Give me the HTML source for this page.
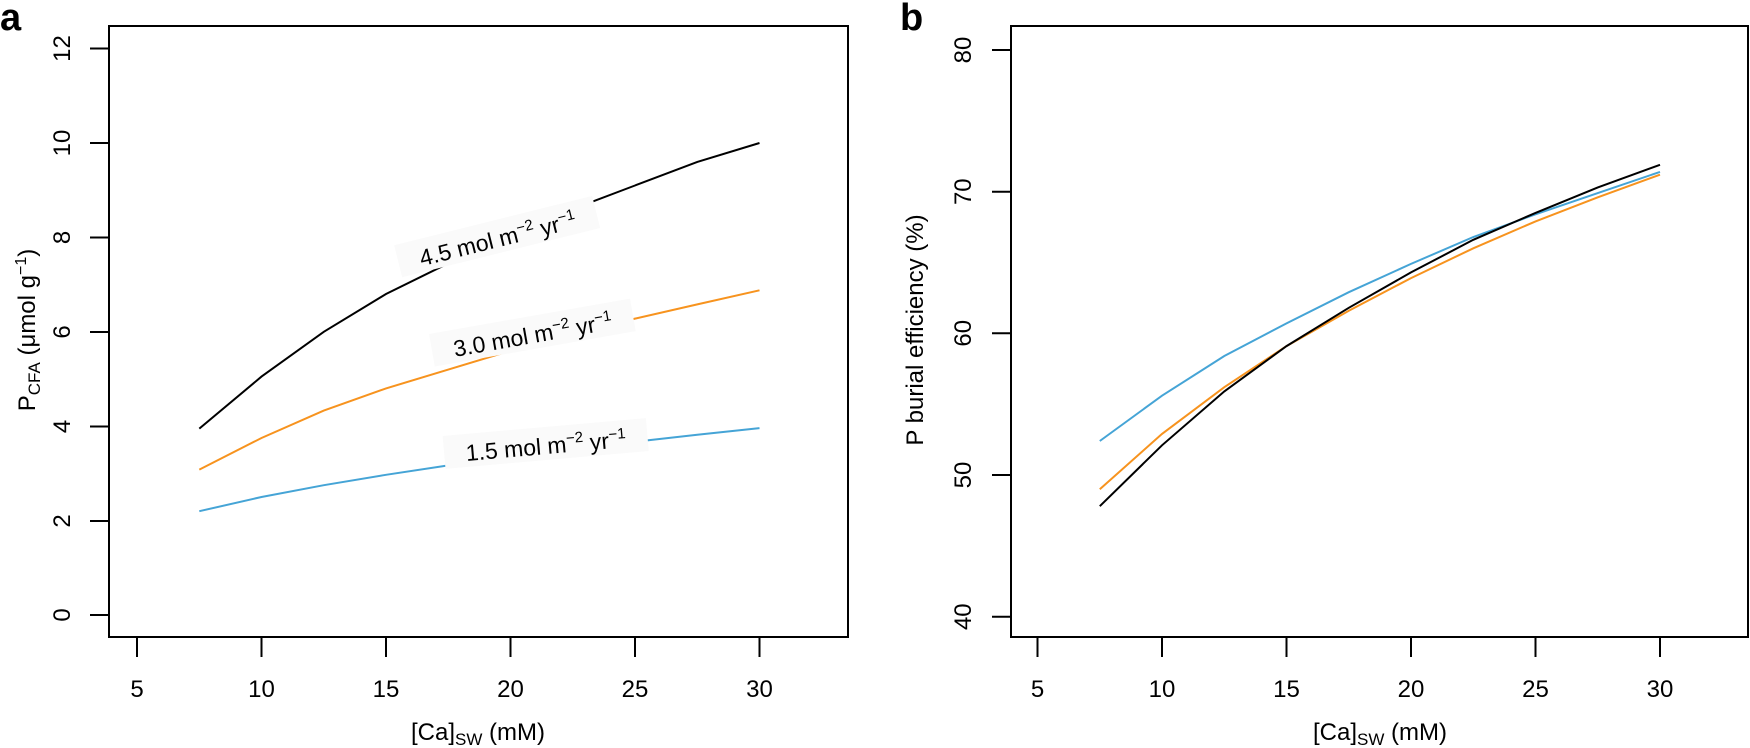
<!DOCTYPE html>
<html><head><meta charset="utf-8"><style>
body{margin:0;background:#fff}
svg{display:block}
text{font-family:"Liberation Sans",sans-serif;fill:#000}
</style></head><body>
<svg width="1750" height="748" viewBox="0 0 1750 748" xmlns="http://www.w3.org/2000/svg">
<!-- Panel a -->
<text x="0" y="30" font-size="38" font-weight="bold">a</text>
<rect x="109" y="26" width="739" height="611" fill="none" stroke="#000" stroke-width="2"/>
<g stroke="#000" stroke-width="2">
<line x1="137" y1="637" x2="137" y2="657"/><line x1="261.5" y1="637" x2="261.5" y2="657"/>
<line x1="386" y1="637" x2="386" y2="657"/><line x1="510.5" y1="637" x2="510.5" y2="657"/>
<line x1="635" y1="637" x2="635" y2="657"/><line x1="759.5" y1="637" x2="759.5" y2="657"/>
<line x1="90" y1="615" x2="109" y2="615"/><line x1="90" y1="521" x2="109" y2="521"/>
<line x1="90" y1="426.5" x2="109" y2="426.5"/><line x1="90" y1="332" x2="109" y2="332"/>
<line x1="90" y1="237.5" x2="109" y2="237.5"/><line x1="90" y1="143" x2="109" y2="143"/>
<line x1="90" y1="48.5" x2="109" y2="48.5"/>
</g>
<g font-size="24" text-anchor="middle">
<text x="137" y="697">5</text><text x="261.5" y="697">10</text><text x="386" y="697">15</text>
<text x="510.5" y="697">20</text><text x="635" y="697">25</text><text x="759.5" y="697">30</text>
<text transform="translate(70,615) rotate(-90)">0</text>
<text transform="translate(70,521) rotate(-90)">2</text>
<text transform="translate(70,426.5) rotate(-90)">4</text>
<text transform="translate(70,332) rotate(-90)">6</text>
<text transform="translate(70,237.5) rotate(-90)">8</text>
<text transform="translate(70,143) rotate(-90)">10</text>
<text transform="translate(70,48.5) rotate(-90)">12</text>
<text x="478" y="740">[Ca]<tspan font-size="17" dy="5">SW</tspan><tspan dy="-5"> (mM)</tspan></text>
<text transform="translate(35,330) rotate(-90)">P<tspan font-size="17" dy="5">CFA</tspan><tspan dy="-5"> (μmol g</tspan><tspan font-size="16" dy="-9">−1</tspan><tspan dy="9">)</tspan></text>
</g>
<g fill="none" stroke-width="2">
<polyline stroke="#000" points="199.3,428.6 261.5,376.6 323.8,331.8 386,294 448.3,263.3 510.5,237.5 572.8,209.1 635,185.5 697.3,161.9 759.5,143"/>
<polyline stroke="#f7931e" points="199.3,469.6 261.5,438 323.8,410.6 386,388.4 448.3,369.6 510.5,350.7 572.8,334.2 635,318.6 697.3,304.4 759.5,290.3"/>
<polyline stroke="#45a4d6" points="199.3,511.2 261.5,497 323.8,485.2 386,474.8 448.3,465.4 510.5,456.9 572.8,448.9 635,441.8 697.3,434.7 759.5,428.1"/>
</g>
<g font-size="23" text-anchor="middle">
<g transform="translate(498,240) rotate(-14)"><rect x="-102" y="-20" width="204" height="33" fill="#fafafa"/><text x="0" y="7">4.5 mol m<tspan font-size="15" dy="-9">−2</tspan><tspan dy="9"> yr</tspan><tspan font-size="15" dy="-9">−1</tspan></text></g>
<g transform="translate(533,336) rotate(-10)"><rect x="-102" y="-20" width="204" height="33" fill="#fafafa"/><text x="0" y="7">3.0 mol m<tspan font-size="15" dy="-9">−2</tspan><tspan dy="9"> yr</tspan><tspan font-size="15" dy="-9">−1</tspan></text></g>
<g transform="translate(546,447) rotate(-5)"><rect x="-102" y="-20" width="204" height="33" fill="#fafafa"/><text x="0" y="7">1.5 mol m<tspan font-size="15" dy="-9">−2</tspan><tspan dy="9"> yr</tspan><tspan font-size="15" dy="-9">−1</tspan></text></g>
</g>

<!-- Panel b -->
<text x="900" y="30" font-size="38" font-weight="bold">b</text>
<rect x="1011" y="26" width="737" height="611" fill="none" stroke="#000" stroke-width="2"/>
<g stroke="#000" stroke-width="2">
<line x1="1037.5" y1="637" x2="1037.5" y2="657"/><line x1="1162" y1="637" x2="1162" y2="657"/>
<line x1="1286.5" y1="637" x2="1286.5" y2="657"/><line x1="1411" y1="637" x2="1411" y2="657"/>
<line x1="1535.5" y1="637" x2="1535.5" y2="657"/><line x1="1660" y1="637" x2="1660" y2="657"/>
<line x1="992" y1="616.7" x2="1011" y2="616.7"/><line x1="992" y1="475" x2="1011" y2="475"/>
<line x1="992" y1="333.3" x2="1011" y2="333.3"/><line x1="992" y1="191.7" x2="1011" y2="191.7"/>
<line x1="992" y1="50" x2="1011" y2="50"/>
</g>
<g font-size="24" text-anchor="middle">
<text x="1037.5" y="697">5</text><text x="1162" y="697">10</text><text x="1286.5" y="697">15</text>
<text x="1411" y="697">20</text><text x="1535.5" y="697">25</text><text x="1660" y="697">30</text>
<text transform="translate(971,616.7) rotate(-90)">40</text>
<text transform="translate(971,475) rotate(-90)">50</text>
<text transform="translate(971,333.3) rotate(-90)">60</text>
<text transform="translate(971,191.7) rotate(-90)">70</text>
<text transform="translate(971,50) rotate(-90)">80</text>
<text x="1380" y="740">[Ca]<tspan font-size="17" dy="5">SW</tspan><tspan dy="-5"> (mM)</tspan></text>
<text transform="translate(923,330) rotate(-90)">P burial efficiency (%)</text>
</g>
<g fill="none" stroke-width="2">
<polyline stroke="#45a4d6" points="1099.8,441 1162,395.7 1224.3,356 1286.5,323.4 1348.8,292.2 1411,263.9 1473.3,237 1535.5,214.3 1597.8,193.1 1660,171.9"/>
<polyline stroke="#f7931e" points="1099.8,489.2 1162,433.9 1224.3,387.2 1286.5,346.1 1348.8,310.7 1411,278.1 1473.3,248.3 1535.5,221.4 1597.8,197.3 1660,174.7"/>
<polyline stroke="#000" points="1099.8,506.2 1162,445.3 1224.3,391.4 1286.5,346.1 1348.8,307.8 1411,272.4 1473.3,239.8 1535.5,212.9 1597.8,187.4 1660,164.8"/>
</g>
</svg>
</body></html>
